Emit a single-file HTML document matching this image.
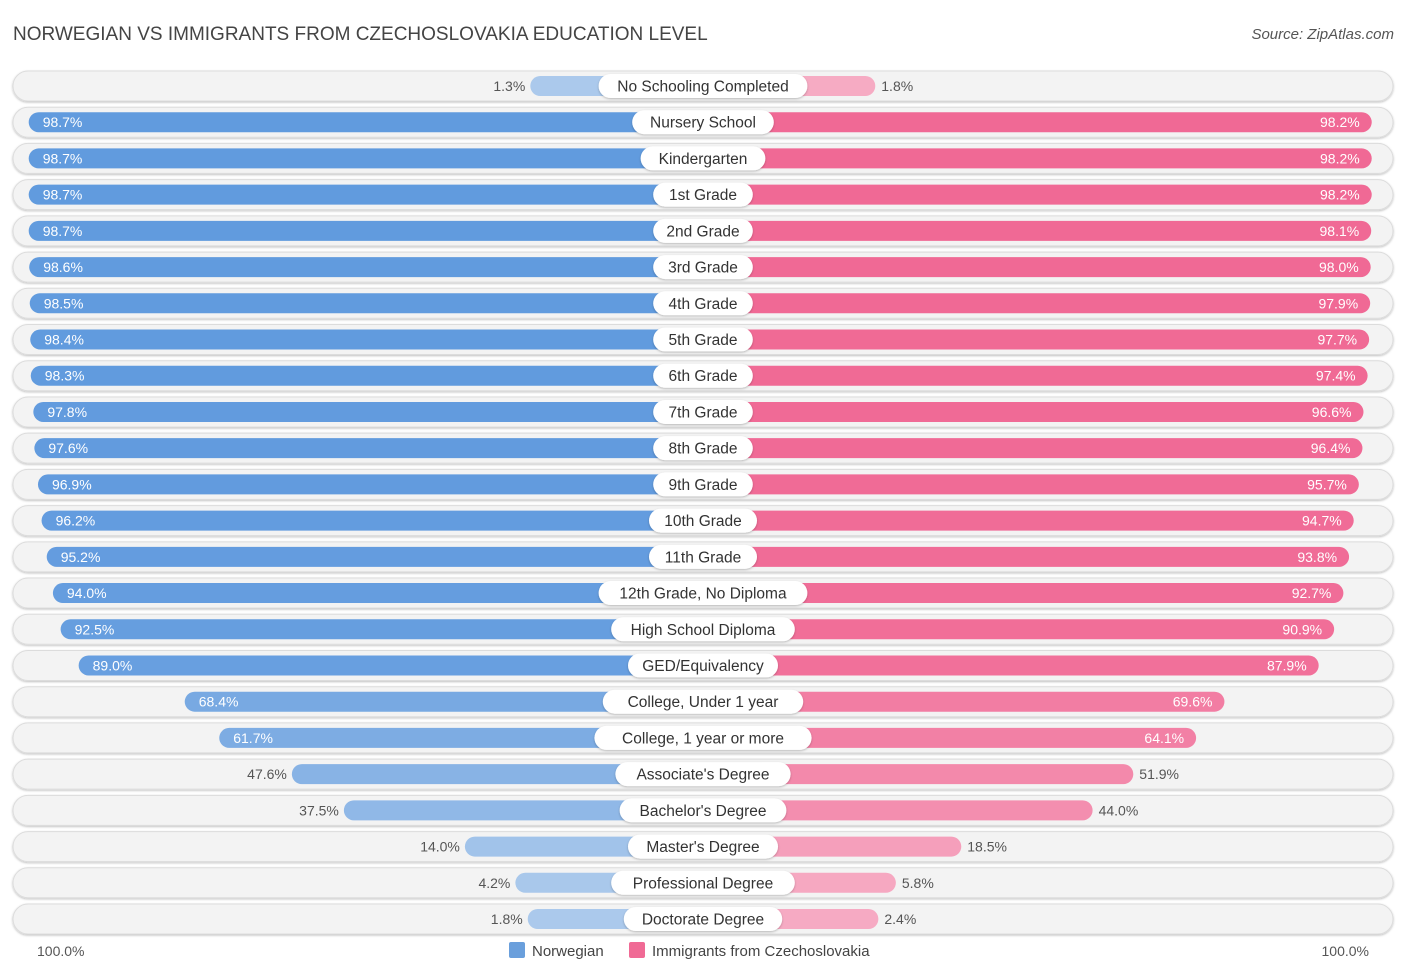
<!DOCTYPE html>
<html><head><meta charset="utf-8"><style>
body{margin:0;background:#fff;font-family:"Liberation Sans",sans-serif;}
svg text{font-family:"Liberation Sans",sans-serif;}
</style></head><body>
<svg id="c" width="1406" height="975" xmlns="http://www.w3.org/2000/svg">
<text x="13" y="40" font-size="19" fill="#444">NORWEGIAN VS IMMIGRANTS FROM CZECHOSLOVAKIA EDUCATION LEVEL</text>
<text x="1394" y="39" font-size="15" fill="#555" font-style="italic" text-anchor="end">Source: ZipAtlas.com</text>
<g id="rows"></g>
<text x="37" y="956" font-size="14" fill="#555">100.0%</text>
<text x="1369" y="956" font-size="14" fill="#555" text-anchor="end">100.0%</text>
<g>
<rect x="509" y="942" width="16" height="16" rx="2" fill="#6a9fdc"/>
<text x="532" y="956" font-size="15" fill="#444">Norwegian</text>
<rect x="629" y="942" width="16" height="16" rx="2" fill="#f06a95"/>
<text x="652" y="956" font-size="15" fill="#444">Immigrants from Czechoslovakia</text>
</g>
</svg>
<script>
const categories=["No Schooling Completed","Nursery School","Kindergarten","1st Grade","2nd Grade","3rd Grade","4th Grade","5th Grade","6th Grade","7th Grade","8th Grade","9th Grade","10th Grade","11th Grade","12th Grade, No Diploma","High School Diploma","GED/Equivalency","College, Under 1 year","College, 1 year or more","Associate's Degree","Bachelor's Degree","Master's Degree","Professional Degree","Doctorate Degree"];
const norwegian=[1.3,98.7,98.7,98.7,98.7,98.6,98.5,98.4,98.3,97.8,97.6,96.9,96.2,95.2,94.0,92.5,89.0,68.4,61.7,47.6,37.5,14.0,4.2,1.8];
const immigrants=[1.8,98.2,98.2,98.2,98.1,98.0,97.9,97.7,97.4,96.6,96.4,95.7,94.7,93.8,92.7,90.9,87.9,69.6,64.1,51.9,44.0,18.5,5.8,2.4];
const NS="http://www.w3.org/2000/svg";
const g=document.getElementById('rows');
const CX=703,SC=5.15,LOFF=166,ROFF=163,Y0=86,STEP=(919-86)/(categories.length-1);
function xl(v){return CX-LOFF-v*SC;}
function xr(v){return CX+ROFF+v*SC;}
function mix(a,b,t){return 'rgb('+a.map((c,i)=>Math.round(c+(b[i]-c)*t)).join(',')+')';}
function el(tag,attrs,parent){const e=document.createElementNS(NS,tag);for(const k in attrs)e.setAttribute(k,attrs[k]);parent.appendChild(e);return e;}
const defs=el('defs',{},document.getElementById('c'));
const f=el('filter',{id:'sh',x:'-10%',y:'-30%',width:'120%',height:'160%'},defs);
el('feDropShadow',{dx:'0',dy:'1',stdDeviation:'1',"flood-color":'#000',"flood-opacity":'0.25'},f);
categories.forEach((cat,i)=>{
  const y=Y0+i*STEP;
  const row=el('g',{},g);
  
  
  const bg=el('rect',{x:13,y:y-15,width:1380,height:30,rx:15,fill:'#f3f3f3',stroke:'#dcdcdc','stroke-width':1,filter:'url(#sh)'},row);
  
  
  const a=norwegian[i],b=immigrants[i];
  const ta=Math.min(1,a/100),tb=Math.min(1,b/100);
  const lb=el('rect',{x:xl(a),y:y-10,width:CX-xl(a),height:20,rx:10,fill:mix([172,202,236],[96,154,222],ta)},row);
  
  
  const rb=el('rect',{x:CX,y:y-10,width:xr(b)-CX,height:20,rx:10,fill:mix([246,172,196],[240,104,148],tb)},row);
  
  
  const inA=a>55,inB=b>55;
  const va=el('text',{x:inA?xl(a)+14:xl(a)-5,y:y+5,'font-size':14,fill:inA?'#fff':'#555','text-anchor':inA?'start':'end'},row);
  va.textContent=a.toFixed(1)+'%';
  
  
  const vb=el('text',{x:inB?xr(b)-12:xr(b)+6,y:y+5,'font-size':14,fill:inB?'#fff':'#555','text-anchor':inB?'end':'start'},row);
  vb.textContent=b.toFixed(1)+'%';
  
  
  const w=cat.length*8.4+24;
  const pill=el('rect',{x:CX-w/2,y:y-12,width:w,height:24,rx:12,fill:'#fff',filter:'url(#sh)'},row);
  
  
  const lt=el('text',{x:CX,y:y+5.5,'font-size':15.5,fill:'#333','text-anchor':'middle'},row);
  lt.textContent=cat;
  
  
});
</script>
</body></html>
